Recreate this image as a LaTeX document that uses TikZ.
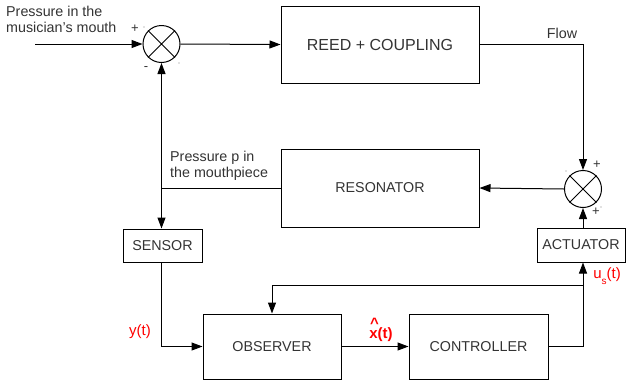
\documentclass[tikz,border=0pt]{standalone}
\usepackage{fontspec}
\setmainfont{Liberation Sans}
\usetikzlibrary{arrows.meta}
\definecolor{txt}{HTML}{333333}
\begin{document}
\begin{tikzpicture}[x=1pt,y=-1pt,
  every node/.style={font=\fontsize{14.3}{16}\selectfont, text=txt},
  blk/.style={draw, line width=1pt, inner sep=0pt},
  sumnode/.style={draw, circle, line width=1pt, minimum size=37pt, inner sep=0pt},
  conn/.style={line width=1pt},
  arr/.style={conn, -{Triangle[length=11pt,width=8pt]}},
  redlab/.style={text=red, font=\fontsize{15}{17}\selectfont},
  sgn/.style={font=\fontsize{13}{14}\selectfont, inner sep=0pt},
  dotm/.style={fill=gray, circle, inner sep=0pt, minimum size=1.3pt}
]
\useasboundingbox (0,0) rectangle (627,389);

% blocks
\node[blk, minimum width=198pt, minimum height=77pt, font=\fontsize{16}{18}\selectfont] (reed) at (380,44.5) {REED + COUPLING};
\node[blk, minimum width=198pt, minimum height=78pt] (res) at (380,188) {RESONATOR};
\node[blk, minimum width=79pt, minimum height=33pt] (sens) at (162.5,245.5) {SENSOR};
\node[blk, minimum width=88pt, minimum height=34pt] (act) at (581,245) {ACTUATOR};
\node[blk, minimum width=138pt, minimum height=65pt] (obs) at (272,346.5) {OBSERVER};
\node[blk, minimum width=139pt, minimum height=65pt] (ctrl) at (478.5,346.5) {CONTROLLER};

% summing junctions
\node[sumnode] (s1) at (161.5,44) {};
\draw[conn] (s1.north west) -- (s1.south east) (s1.north east) -- (s1.south west);
\node[sumnode] (s2) at (583,189) {};
\draw[conn] (s2.north west) -- (s2.south east) (s2.north east) -- (s2.south west);

% signs
\node[sgn] (p1) at (135,29) {+};
\node[sgn] (m1) at (146,69) {-};
\node[dotm] (d1) at (144,27) {};
\node[dotm] (d2) at (179,63) {};
\node[sgn] (p2) at (597,165) {+};
\node[sgn] (p3) at (596,212) {+};
\node[dotm] (d3) at (566,171) {};
\node[dotm] (d4) at (601,207) {};

% labels
\node[align=left, anchor=west, inner sep=0pt] (lin) at (6,19.5) {Pressure in the\\musician's mouth};
\node[align=left, anchor=west, inner sep=0pt] (lmp) at (170,166) {Pressure p in\\the mouthpiece};
\node[anchor=center, inner sep=0pt] (lflow) at (562,33) {Flow};
\node[redlab, inner sep=0pt] (ly) at (140,332) {y(t)};
\node[redlab, inner sep=0pt, font=\fontsize{15}{17}\selectfont\bfseries] (lx) at (381,330) {\makebox[0pt][l]{\raisebox{0.62em}{\kern0.05em\^{}}}x(t)};
\node[redlab, inner sep=0pt] (lu) at (607,276) {u\raisebox{-0.4em}{\fontsize{10}{10}\selectfont s}(t)};

% connectors
\coordinate (in) at (35,44);
\draw[arr] (in) -- (s1.west);
\draw[arr] (s1.east) -- (reed.west);
\coordinate (fl) at (583,44);
\draw[conn] (reed.east |- fl) -- (fl);
\draw[arr] (fl) -- (s2.north);
\draw[arr] (s2.west) -- (res.east);
\draw[arr] (s2 |- act.north) -- (s2.south);
\coordinate (j1) at (s1 |- res.west);
\draw[conn] (res.west) -- (j1);
\draw[conn, {Triangle[length=11pt,width=8pt]}-{Triangle[length=11pt,width=8pt]}] (s1.south) -- (s1 |- sens.north);
\draw[arr] (s1 |- sens.south) |- (obs.west);
\draw[arr] (obs.east) -- (ctrl.west);
\draw[arr] (ctrl.east) -| (s2 |- act.south);
\coordinate (fb) at (583,285);
\draw[arr] (fb) -| (obs.north);
\end{tikzpicture}
\end{document}
